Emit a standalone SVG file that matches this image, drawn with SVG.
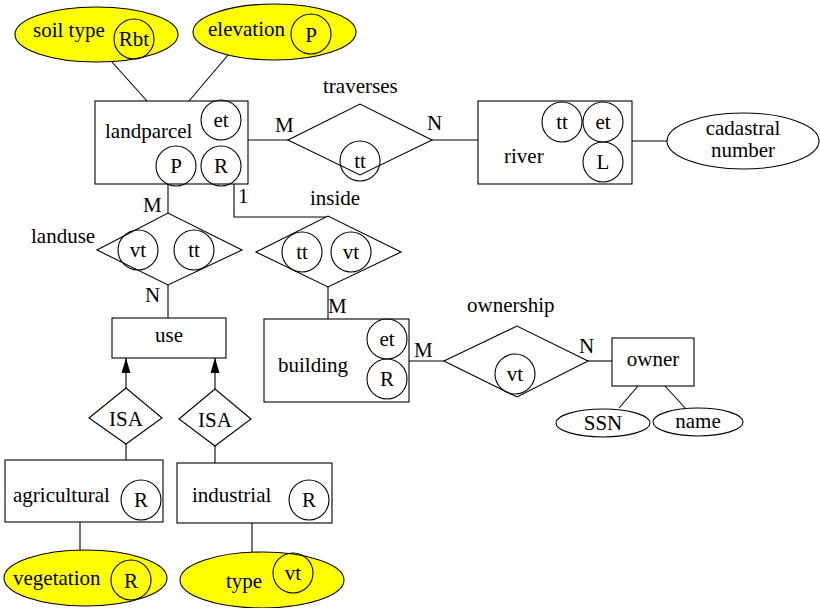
<svg xmlns="http://www.w3.org/2000/svg" width="820" height="608" viewBox="0 0 820 608">
  <style>
    .shape { fill: #ffffff; stroke: #000000; stroke-width: 1.1; }
    .attr-key { fill: #ffff00; stroke: #000000; stroke-width: 1.1; }
    .tag { fill: none; stroke: #000000; stroke-width: 1.1; }
    .link { fill: none; stroke: #000000; stroke-width: 1.1; }
    text { font-family: "Liberation Serif", "Times New Roman", serif; font-size: 21px; fill: #000000; }
    .c { text-anchor: middle; }
  </style>
  <defs>
    <!-- solid arrowhead, tip at the end of the line -->
    <marker id="tri" viewBox="0 0 15 9" refX="15" refY="4.5" markerWidth="15" markerHeight="9" markerUnits="userSpaceOnUse" orient="auto">
      <path d="M0,0 L15,4.5 L0,9 Z" fill="#000000"/>
    </marker>
  </defs>

  <rect width="820" height="608" fill="#ffffff"/>

  <!-- connectors -->
  <g id="connectors">
    <line class="link" x1="112" y1="62" x2="147" y2="101"/>
    <line class="link" x1="228" y1="55" x2="189" y2="101"/>
    <line class="link" x1="248" y1="140" x2="288" y2="140"/>
    <line class="link" x1="432" y1="140" x2="478" y2="140"/>
    <line class="link" x1="632" y1="141" x2="667" y2="141"/>
    <line class="link" x1="168" y1="184" x2="168" y2="213"/>
    <line class="link" x1="168" y1="285" x2="168" y2="318"/>
    <polyline class="link" points="234,184 234,217 328,217"/>
    <line class="link" x1="328" y1="287" x2="328" y2="319"/>
    <line class="link" x1="409" y1="361" x2="444" y2="361"/>
    <line class="link" x1="588" y1="361" x2="612" y2="361"/>
    <line class="link" x1="638" y1="386" x2="619" y2="408"/>
    <line class="link" x1="665" y1="386" x2="687" y2="410"/>
    <line class="link" x1="126" y1="388" x2="126" y2="358" marker-end="url(#tri)"/>
    <line class="link" x1="215" y1="389" x2="215" y2="358" marker-end="url(#tri)"/>
    <line class="link" x1="126" y1="444" x2="126" y2="460"/>
    <line class="link" x1="215" y1="446" x2="215" y2="463"/>
    <line class="link" x1="80" y1="522" x2="80" y2="550"/>
    <line class="link" x1="252" y1="523" x2="252" y2="552"/>

    <!-- cardinalities -->
    <text x="275" y="132">M</text>
    <text x="427" y="130">N</text>
    <text x="143" y="212">M</text>
    <text x="145" y="302">N</text>
    <text x="238" y="203">1</text>
    <text x="328" y="313">M</text>
    <text x="414" y="357">M</text>
    <text x="579" y="353">N</text>
  </g>

  <!-- attributes of landparcel -->
  <g id="soil-type">
    <ellipse class="attr-key" cx="96.5" cy="34.5" rx="81.5" ry="27.5"/>
    <text x="33" y="37">soil type</text>
    <circle class="tag" cx="134" cy="39" r="20"/>
    <text class="c" x="134" y="46">Rbt</text>
  </g>
  <g id="elevation">
    <ellipse class="attr-key" cx="274.5" cy="32" rx="81.5" ry="28"/>
    <text x="208" y="36">elevation</text>
    <circle class="tag" cx="311" cy="34" r="20"/>
    <text class="c" x="311" y="42">P</text>
  </g>

  <!-- entities and relationships -->
  <g id="landparcel">
    <rect class="shape" x="95" y="101" width="153" height="83"/>
    <text x="105" y="138">landparcel</text>
    <circle class="tag" cx="221" cy="120" r="20"/>
    <text class="c" x="221" y="127">et</text>
    <circle class="tag" cx="176" cy="166" r="20"/>
    <text class="c" x="176" y="173">P</text>
    <circle class="tag" cx="221" cy="166" r="20"/>
    <text class="c" x="221" y="173">R</text>
  </g>

  <g id="traverses">
    <polygon class="shape" points="288,140 360,104 432,140 360,175"/>
    <text x="323" y="93">traverses</text>
    <circle class="tag" cx="360" cy="161" r="20"/>
    <text class="c" x="360" y="168">tt</text>
  </g>

  <g id="river">
    <rect class="shape" x="478" y="101" width="154" height="83"/>
    <text x="504" y="163">river</text>
    <circle class="tag" cx="562" cy="122" r="20"/>
    <text class="c" x="562" y="129">tt</text>
    <circle class="tag" cx="603" cy="122" r="20"/>
    <text class="c" x="603" y="129">et</text>
    <circle class="tag" cx="603" cy="162" r="20"/>
    <text class="c" x="603" y="169">L</text>
  </g>

  <g id="cadastral-number">
    <ellipse class="shape" cx="743" cy="141" rx="76" ry="28"/>
    <text class="c" x="743" y="135">cadastral</text>
    <text class="c" x="743" y="157">number</text>
  </g>

  <g id="landuse">
    <polygon class="shape" points="97,250 168,213 242,250 168,285"/>
    <text x="31" y="243">landuse</text>
    <circle class="tag" cx="138" cy="250" r="20"/>
    <text class="c" x="138" y="257">vt</text>
    <circle class="tag" cx="194" cy="250" r="20"/>
    <text class="c" x="194" y="257">tt</text>
  </g>

  <g id="inside">
    <polygon class="shape" points="256,252 328,216 401,252 328,287"/>
    <text x="310" y="205">inside</text>
    <circle class="tag" cx="302" cy="252" r="20"/>
    <text class="c" x="302" y="259">tt</text>
    <circle class="tag" cx="351" cy="252" r="20"/>
    <text class="c" x="351" y="259">vt</text>
  </g>

  <g id="use">
    <rect class="shape" x="112" y="318" width="114" height="40"/>
    <text class="c" x="169" y="342">use</text>
  </g>

  <g id="building">
    <rect class="shape" x="264" y="319" width="145" height="83"/>
    <text x="278" y="372">building</text>
    <circle class="tag" cx="387" cy="339" r="20"/>
    <text class="c" x="387" y="346">et</text>
    <circle class="tag" cx="387" cy="379" r="20"/>
    <text class="c" x="387" y="386">R</text>
  </g>

  <g id="ownership">
    <polygon class="shape" points="444,361 517,326 588,361 517,397"/>
    <text x="467" y="312">ownership</text>
    <circle class="tag" cx="515" cy="374" r="20"/>
    <text class="c" x="515" y="381">vt</text>
  </g>

  <g id="owner">
    <rect class="shape" x="612" y="338" width="82" height="48"/>
    <text class="c" x="653" y="366">owner</text>
  </g>

  <g id="ssn">
    <ellipse class="shape" cx="603" cy="423" rx="47" ry="14"/>
    <text class="c" x="603" y="430">SSN</text>
  </g>
  <g id="name">
    <ellipse class="shape" cx="698" cy="422" rx="45" ry="14"/>
    <text class="c" x="698" y="428">name</text>
  </g>

  <g id="isa-agricultural">
    <polygon class="shape" points="89,418 126,388 162,418 126,444"/>
    <text class="c" x="126" y="426">ISA</text>
  </g>
  <g id="isa-industrial">
    <polygon class="shape" points="179,419 215,389 251,419 215,446"/>
    <text class="c" x="215" y="427">ISA</text>
  </g>

  <g id="agricultural">
    <rect class="shape" x="5" y="460" width="158" height="62"/>
    <text x="13" y="502">agricultural</text>
    <circle class="tag" cx="141" cy="500" r="20"/>
    <text class="c" x="141" y="507">R</text>
  </g>
  <g id="industrial">
    <rect class="shape" x="177" y="463" width="155" height="60"/>
    <text x="192" y="502">industrial</text>
    <circle class="tag" cx="309" cy="500" r="20"/>
    <text class="c" x="309" y="507">R</text>
  </g>

  <g id="vegetation">
    <ellipse class="attr-key" cx="85.5" cy="578" rx="81.5" ry="28"/>
    <text x="13" y="585">vegetation</text>
    <circle class="tag" cx="131" cy="580" r="20"/>
    <text class="c" x="131" y="588">R</text>
  </g>
  <g id="type">
    <ellipse class="attr-key" cx="262" cy="580" rx="82" ry="28"/>
    <text x="226" y="588">type</text>
    <circle class="tag" cx="293" cy="573" r="20"/>
    <text class="c" x="293" y="580">vt</text>
  </g>
</svg>
